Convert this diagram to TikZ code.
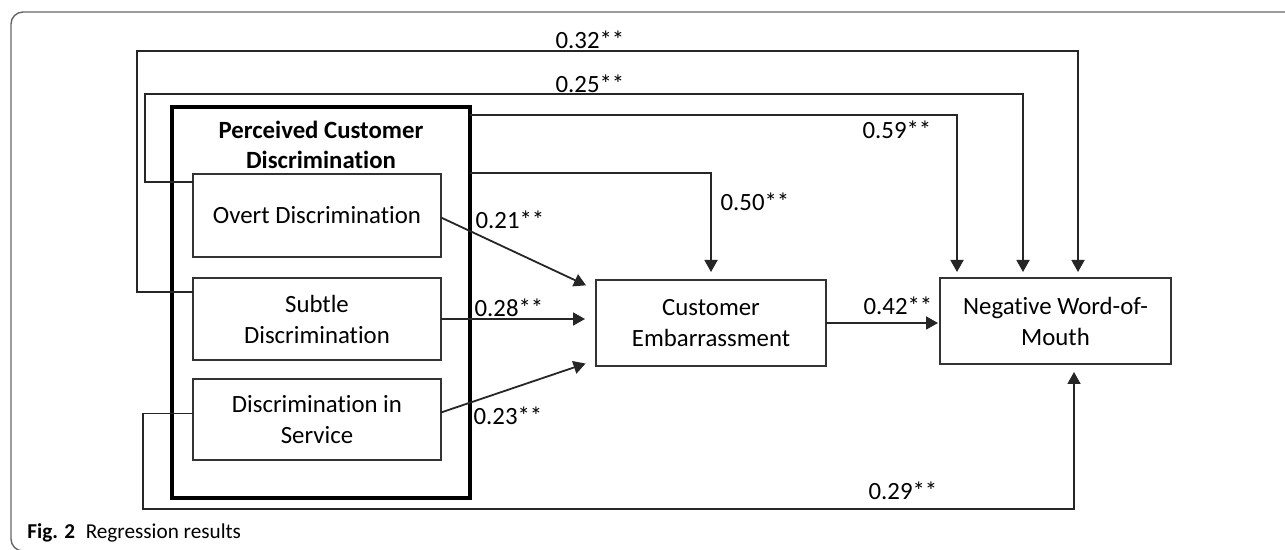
\documentclass[tikz,border=0pt]{standalone}
\usepackage{fontspec}
\setmainfont{Carlito}[Ligatures=CommonOff]
\usetikzlibrary{arrows.meta}
\newcommand{\boxfont}{\fontsize{12.4}{15.5}\selectfont}
\begin{document}
\begin{tikzpicture}[x=0.5pt,y=-0.5pt,>={Triangle[length=6pt,width=6.5pt]},
	box/.style={draw=black!80,line width=0.9pt,inner sep=0pt,outer sep=0pt,align=center,font=\boxfont},
	link/.style={draw=black!85,line width=0.9pt},
	coef/.style={font=\boxfont,inner sep=0pt}]
	\useasboundingbox (0,0) rectangle (1285,550);
	\draw[black!60,line width=0.7pt,rounded corners=6pt] (11,12) rectangle (1320,551);
	\node[box,draw=black,line width=2.2pt,minimum width=149pt,minimum height=195.5pt] (pcd) at (321,302.5) {};
	\node[font=\fontsize{12.4}{14.8}\selectfont\bfseries,align=center,inner sep=0pt] (pct) at (321,145) {Perceived Customer\\Discrimination};
	\node[box,fill=white,minimum width=124pt,minimum height=41.5pt] (ovd) at (317,215.5) {Overt Discrimination};
	\node[box,fill=white,minimum width=124pt,minimum height=41pt] (sbd) at (317,319) {Subtle\\Discrimination};
	\node[box,fill=white,minimum width=124pt,minimum height=40.5pt] (dis) at (317,419.5) {Discrimination in\\Service};
	\node[box,minimum width=115pt,minimum height=43pt] (emb) at (711,323) {Customer\\Embarrassment};
	\node[box,minimum width=115.5pt,minimum height=43pt] (nwm) at (1055.5,321) {Negative Word-of-\\Mouth};
	\draw[link,->,shorten >=3pt] ([yshift=-7pt]sbd.north west) -| (137,51) -| ([xshift=11.25pt]nwm.north);
	\draw[link,->,shorten >=3pt] ([yshift=-4pt]ovd.north west) -| (145,94) -| ([xshift=-16.25pt]nwm.north);
	\draw[link,->,shorten >=3pt] ([yshift=-4pt]pcd.north east) -| ([xshift=-49.25pt]nwm.north);
	\draw[link,->,shorten >=4pt] ([yshift=-33pt]pcd.north east) -| (emb.north);
	\draw[link,->,shorten >=5.5pt] ([yshift=-1pt]ovd.east) -- ([yshift=-5pt]emb.north west);
	\draw[link,->,shorten >=5.5pt] (sbd.east) -- (sbd.east -| emb.west);
	\draw[link,->,shorten >=5.5pt] ([yshift=3.5pt]dis.east) -- ([yshift=3pt]emb.south west);
	\draw[link,->,shorten >=1pt] (emb.east) -- (emb.east -| nwm.west);
	\draw[link,->,shorten >=4pt] ([yshift=3pt]dis.west) -| (143,509) -| ([xshift=9.25pt]nwm.south);
	\node[coef] (c32) at (590,40) {0.32**};
	\node[coef] (c25) at (590,84) {0.25**};
	\node[coef] (c59) at (897,130) {0.59**};
	\node[coef] (c50) at (755,202) {0.50**};
	\node[coef] (c21) at (510,220) {0.21**};
	\node[coef] (c28) at (509,308) {0.28**};
	\node[coef] (c23) at (508,416) {0.23**};
	\node[coef] (c42) at (898,306) {0.42**};
	\node[coef] (c29) at (903,491) {0.29**};
	\node[anchor=west,font=\fontsize{10.6}{12}\selectfont,inner sep=0pt] (cap) at (27,533) {\textbf{Fig. 2}\hspace{0.5em}Regression results};
\end{tikzpicture}
\end{document}
